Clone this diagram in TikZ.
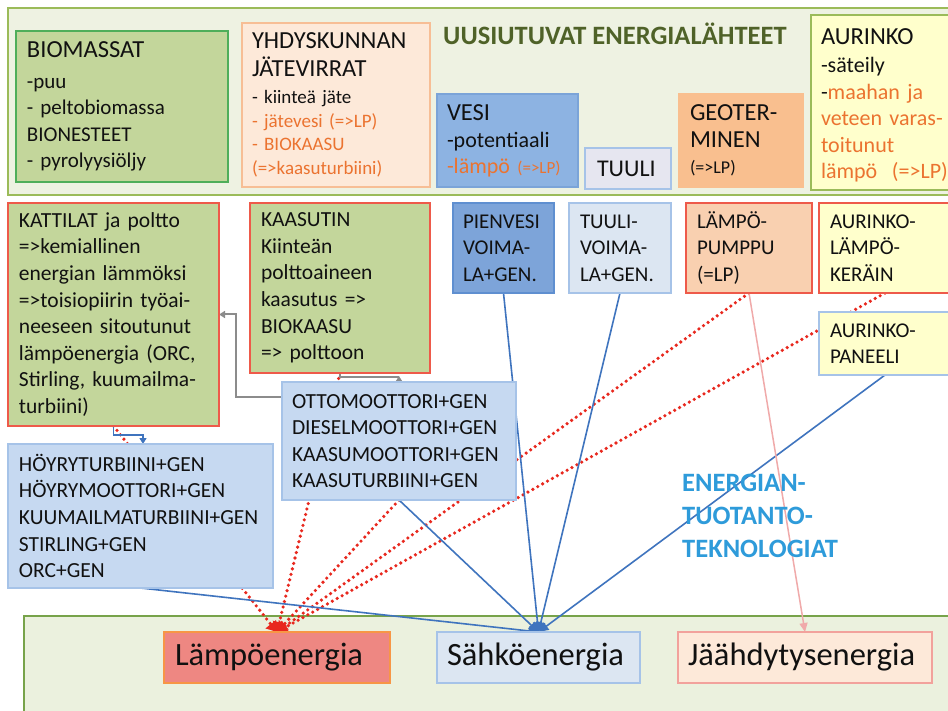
\documentclass[tikz,border=0pt]{standalone}
\usepackage{fontspec}
\setmainfont{Carlito}
\usetikzlibrary{arrows.meta}
\definecolor{cTxt}{HTML}{111111}
\definecolor{cTopBg}{HTML}{EEF2E2}
\definecolor{cTopBd}{HTML}{9BBB59}
\definecolor{cBotBg}{HTML}{EBF1DE}
\definecolor{cBotBd}{HTML}{77A34A}
\definecolor{cGreen}{HTML}{C3D69B}
\definecolor{cGreenBd}{HTML}{4FAE5A}
\definecolor{cRedBd}{HTML}{EE5A4A}
\definecolor{cPeach}{HTML}{FDE9D9}
\definecolor{cPeachBd}{HTML}{F7BE95}
\definecolor{cVesi}{HTML}{8DB3E2}
\definecolor{cVesiBd}{HTML}{7BA4D8}
\definecolor{cLav}{HTML}{E6E6F0}
\definecolor{cLBlueBd}{HTML}{A6C3E8}
\definecolor{cGeo}{HTML}{F9BF8F}
\definecolor{cYel}{HTML}{FFFFCC}
\definecolor{cPien}{HTML}{7DA4D9}
\definecolor{cPienBd}{HTML}{5F8FD0}
\definecolor{cPale}{HTML}{DCE6F2}
\definecolor{cLp}{HTML}{F9D0B0}
\definecolor{cTech}{HTML}{C6D9F1}
\definecolor{cLampo}{HTML}{EE8782}
\definecolor{cLampoBd}{HTML}{F79646}
\definecolor{cJaahBd}{HTML}{F2A29C}
\definecolor{cOr}{HTML}{EB7330}
\definecolor{cTitle}{HTML}{4F6228}
\definecolor{cTechTxt}{HTML}{2E9BDA}
\definecolor{cRedDot}{HTML}{E8281E}
\definecolor{cBlueLn}{HTML}{3F74BE}
\definecolor{cGrayLn}{HTML}{8C8C8C}
\definecolor{cPinkLn}{HTML}{F0AAAA}
\pgfdeclarelayer{bg}
\pgfdeclarelayer{lines}
\pgfsetlayers{bg,lines,main}
\newcommand\myfs[2]{\fontsize{#1}{#2}\selectfont}
\begin{document}
\begin{tikzpicture}[x=1pt,y=-1pt,
  box/.style={draw, anchor=north west, outer sep=0pt, inner ysep=0pt, align=left, line width=1.4pt, text=cTxt},
  reddot/.style={draw=cRedDot, line width=3.6pt, line cap=round, dash pattern=on 0pt off 5.6pt, -{Triangle[width=13pt,length=10pt]}},
  blueln/.style={draw=cBlueLn, line width=1.6pt, -{Triangle[width=9pt,length=10pt]}},
  grayln/.style={draw=cGrayLn, line width=2pt, -{Triangle[width=7pt,length=6pt]}},
  pinkln/.style={draw=cPinkLn, line width=1.5pt, -{Triangle[width=8pt,length=9pt]}},
]
\useasboundingbox (0,0) rectangle (948,711);
\begin{pgfonlayer}{bg}
\fill[white] (0,0) rectangle (948,711);
\draw[fill=cTopBg, draw=cTopBd, line width=2pt] (8,8) rectangle (960,195);
\draw[fill=cBotBg, draw=cBotBd, line width=1.5pt] (24,616) rectangle (960,730);
\end{pgfonlayer}

% top row: sources
\node[anchor=base west, inner sep=0pt, font=\bfseries\myfs{26.5}{30}, text=cTitle] (title) at (443,45) {UUSIUTUVAT ENERGIALÄHTEET};
\node[box, fill=cGreen, draw=cGreenBd, inner xsep=11pt, text width=190pt, minimum height=151pt, font=\myfs{21}{26.5}] (bio) at (16,31)
 {{\myfs{24.5}{26.5}BIOMASSAT}\\[4.5pt] -puu\\ - peltobiomassa\\ BIONESTEET\\ - pyrolyysiöljy};
\node[box, fill=cPeach, draw=cPeachBd, inner xsep=10pt, text width=168pt, minimum height=164pt, font=\myfs{19}{23.5}] (yhd) at (242,23)
 {{\myfs{24.5}{23.5}YHDYSKUNNAN}\\[4.5pt] {\myfs{24.5}{23.5}JÄTEVIRRAT}\\[3.5pt] - kiinteä jäte\\ \textcolor{cOr}{- jätevesi (=>LP)}\\ \textcolor{cOr}{- BIOKAASU}\\ \textcolor{cOr}{(=>kaasuturbiini)}};
\node[box, fill=cVesi, draw=cVesiBd, inner xsep=10pt, text width=121pt, minimum height=93pt, font=\myfs{22}{26}] (vesi) at (437,94)
 {{\myfs{24.5}{26}VESI}\\[1pt] -potentiaali\\ \textcolor{cOr}{-lämpö {\myfs{17}{26}(=>LP)}}};
\node[box, fill=cLav, draw=cLBlueBd, inner xsep=12pt, text width=62pt, minimum height=41pt, font=\myfs{24}{26}] (tuuli) at (585,148) {TUULI};
\node[box, fill=cGeo, draw=cGeo, inner xsep=11pt, text width=102pt, minimum height=93pt, font=\myfs{24.5}{26}] (geo) at (679,94)
 {GEOTER-\\[1pt] MINEN\\ {\myfs{18}{26}(=>LP)}};
\node[box, fill=cYel, draw=cTopBd, inner xsep=10pt, text width=130pt, minimum height=175pt, font=\myfs{22}{26.5}] (aur) at (811,15)
 {\rule{0pt}{22pt}{\myfs{24.5}{26.5}AURINKO}\\[1.5pt] -säteily\\ -\textcolor{cOr}{maahan ja}\\ \textcolor{cOr}{veteen varas-}\\ \textcolor{cOr}{toitunut}\\ \textcolor{cOr}{lämpö\ \ (=>LP)}};

% technologies
\node[box, fill=cGreen, draw=cRedBd, inner xsep=11pt, text width=189pt, minimum height=223pt, font=\myfs{21.5}{26.6}] (kattila) at (8,203)
 {KATTILAT ja poltto\\ =>kemiallinen\\ energian lämmöksi\\ =>toisiopiirin työai-\\ neeseen sitoutunut\\ lämpöenergia (ORC,\\ Stirling, kuumailma-\\ turbiini)};
\node[box, fill=cGreen, draw=cRedBd, inner xsep=11pt, text width=158pt, minimum height=170pt, font=\myfs{21.5}{26.6}] (kaasutin) at (250,203)
 {KAASUTIN\\ Kiinteän\\ polttoaineen\\ kaasutus =>\\ BIOKAASU\\ => polttoon};
\node[box, fill=cPien, draw=cPienBd, inner xsep=10pt, text width=81pt, minimum height=90pt, font=\myfs{21}{26.5}] (pv) at (453,203)
 {PIENVESI\\ VOIMA-\\ LA+GEN.};
\node[box, fill=cPale, draw=cLBlueBd, inner xsep=11pt, text width=80pt, minimum height=90pt, font=\myfs{21}{26.5}] (tv) at (569,203)
 {TUULI-\\ VOIMA-\\ LA+GEN.};
\node[box, fill=cLp, draw=cRedBd, inner xsep=11pt, text width=104pt, minimum height=90pt, font=\myfs{21}{26.5}] (lp) at (686,203)
 {LÄMPÖ-\\ PUMPPU\\ (=LP)};
\node[box, fill=cYel, draw=cRedBd, inner xsep=11pt, text width=110pt, minimum height=90pt, font=\myfs{21}{26.5}] (ak) at (819,203)
 {AURINKO-\\ LÄMPÖ-\\ KERÄIN};
\node[box, fill=cYel, draw=cLBlueBd, inner xsep=11pt, text width=110pt, minimum height=63pt, font=\myfs{21}{26.5}] (ap) at (819,312)
 {AURINKO-\\ PANEELI};
\node[box, fill=cTech, draw=cLBlueBd, inner xsep=10pt, text width=214pt, minimum height=118pt, font=\myfs{21.5}{26.5}] (otto) at (282,382)
 {OTTOMOOTTORI+GEN\\ DIESELMOOTTORI+GEN\\ KAASUMOOTTORI+GEN\\ KAASUTURBIINI+GEN};
\node[box, fill=cTech, draw=cLBlueBd, inner xsep=11pt, text width=243pt, minimum height=144pt, font=\myfs{21.5}{26.6}] (hoyry) at (8,444)
 {HÖYRYTURBIINI+GEN\\ HÖYRYMOOTTORI+GEN\\ KUUMAILMATURBIINI+GEN\\ STIRLING+GEN\\ ORC+GEN};
\node[anchor=north west, inner sep=0pt, align=left, font=\bfseries\myfs{26.5}{33}, text=cTechTxt] (tech) at (682,474)
 {ENERGIAN-\\ TUOTANTO-\\ TEKNOLOGIAT};

% energy forms
\node[box, fill=cLampo, draw=cLampoBd, inner xsep=11pt, text width=204pt, minimum height=51pt, font=\myfs{32.5}{36}] (lampo) at (164,632) {Lämpöenergia};
\node[box, fill=cPale, draw=cLBlueBd, inner xsep=10pt, text width=183pt, minimum height=51pt, font=\myfs{32.5}{36}] (sahko) at (437,632) {Sähköenergia};
\node[box, fill=cPeach, draw=cJaahBd, inner xsep=10pt, text width=234pt, minimum height=51pt, font=\myfs{32.5}{36}] (jaah) at (678,632) {Jäähdytysenergia};

\begin{pgfonlayer}{lines}
% heat (red dotted)
\draw[reddot] (kattila.south) -- (lampo.north);
\draw[reddot] (kaasutin.south) -- (lampo.north);
\draw[reddot] (otto.south) -- (lampo.north);
\draw[reddot] (lp.south) -- (lampo.north);
\draw[reddot] (ak.south) -- (lampo.north);
% electricity (blue)
\draw[blueln] (hoyry.south) -- (sahko.north);
\draw[blueln] (otto.south) -- (sahko.north);
\draw[blueln] (pv.south) -- (sahko.north);
\draw[blueln] (tv.south) -- (sahko.north);
\draw[blueln] (ap.south) -- (sahko.north);
% cooling (pink)
\draw[pinkln] (lp.south) -- (jaah.north);
% internal connectors
\draw[grayln] ([yshift=-15pt]otto.north west) -- ++(-46,0) |- (kattila.east);
\draw[grayln,-] (kaasutin.south) |- (otto.north |- 0,377);
\draw[grayln] (otto.north) -- ++(0,-6);
\draw[draw=cBlueLn, line width=1.4pt, -{Triangle[width=7pt,length=6pt]}] (kattila.south) -- ++(0,9) -| ([xshift=29.5pt]kattila.south |- hoyry.north);
\end{pgfonlayer}
\end{tikzpicture}
\end{document}
